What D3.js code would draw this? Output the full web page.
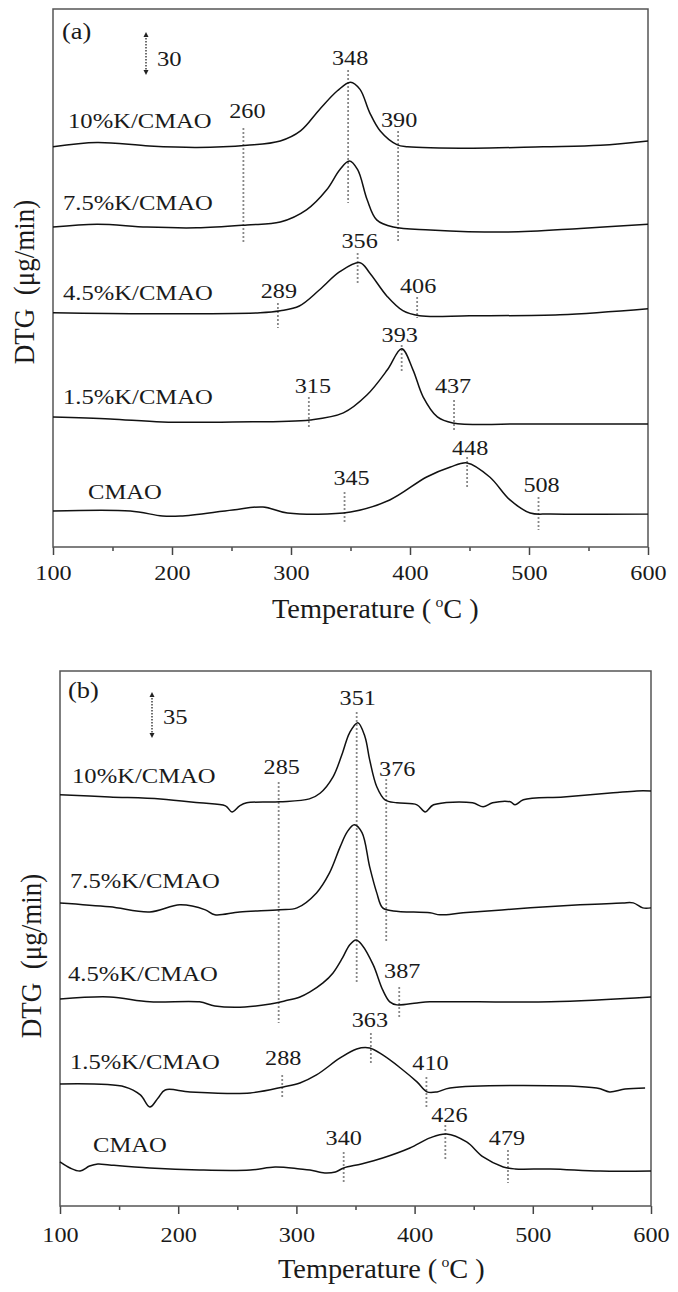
<!DOCTYPE html>
<html>
<head>
<meta charset="utf-8">
<script src="https://cdnjs.cloudflare.com/ajax/libs/d3/7.8.5/d3.min.js"></script>
<style>
  body { margin: 0; background: #fff; }
  svg text { font-family: "Liberation Serif", "Times New Roman", serif; fill: #1a1a1a; }
</style>
</head>
<body>
<script>
// ---- data ----
var seriesNames = ["10%K/CMAO", "7.5%K/CMAO", "4.5%K/CMAO", "1.5%K/CMAO", "CMAO"];
var xTicks = [100, 200, 300, 400, 500, 600];
var xMinorTicks = [150, 250, 350, 450, 550];

// panel (a): [temperature, DTG] (curves stacked with offsets already included)
var a10 = [[100,279],[137,282],[181,279.5],[221,278.5],[263,280],[291,283],[308,290],[324,305],[339,318],[350,324],[358,319],[366,303],[375,290],[389,280.5],[398,279],[453,278],[512,279],[560,280],[600,283]];
var a75 = [[100,223],[137,225],[179,223],[221,222.5],[263,224.5],[291,226.5],[313,235],[330,249],[341,263],[349,269],[356,263],[364,242],[372,228],[386,223],[417,221],[481,219.5],[543,222],[600,225]];
var a45 = [[100,163.3],[181,162.6],[274,163.3],[291,164.7],[307,168],[324,179.3],[341,191.9],[358,198.2],[366,191.2],[381,174.5],[394,164.7],[408,161.2],[450,161.2],[526,161.9],[600,166.1]];
var a15 = [[100,90.7],[148,89.3],[192,87.2],[251,87.2],[316,88.6],[344,93.5],[364,106.1],[381,123.5],[393,138.2],[402.5,123.5],[411,104.7],[423,90.7],[436,86.5],[500,85.8],[600,85.8]];
var a0 = [[100,25.1],[165,25.1],[192,21.6],[207,21.6],[251,25.8],[276.5,27.9],[297,23.7],[350,24.4],[383,32.8],[414,48.8],[434,55.8],[448,58.6],[467,48.8],[484,32.8],[501,23.7],[518,23],[600,23]];
var markA = [260, 348, 390, 289, 356, 406, 315, 393, 437, 345, 448, 508];
var scaleA = 30;

// panel (b)
var b10 = [[100,312.8],[142,311.2],[185,309.7],[218,306.7],[240,304.4],[245.5,299.8],[252,304.4],[258,306.7],[286,307.5],[311,309.7],[320,314],[331,326.5],[339,344.7],[345,360],[352,367.6],[358,357],[362,339.4],[368,319],[375,309],[385,306.7],[402,305.2],[409,299.8],[416,305.2],[449,306.7],[458,303.7],[466,306.7],[481,307.5],[485,305.2],[492,309],[526,311.2],[568,314.3],[588,315.8],[600,315.8]];
var b75 = [[100,230.6],[142,227.6],[176,223.7],[201.5,229.1],[223,225.3],[231,221.5],[252,223.7],[286,225.3],[300.5,226.8],[317,238.2],[328,253.4],[337,273.2],[343,284.6],[349,290],[355.5,284],[362,258],[368,238.2],[373,226.8],[382,224.5],[413,223],[421.5,221.5],[441,223],[498,226.8],[540,229.1],[576,230.6],[585,230.6],[593,226.8],[600,226.8]];
var b45 = [[100,157.5],[142,159],[176,155.3],[218,155.3],[231,152.2],[256.5,151.4],[278,153.7],[290,156],[303,159],[311.5,162.9],[322.5,169.7],[331,177.3],[339,188.7],[345,198.6],[350.5,202.4],[355.5,198.6],[365,183.4],[373,164.4],[379,155.3],[385,153],[402,154.5],[413,155.3],[515,155.3],[600,159]];
var b15 = [[100,92.8],[155,90.6],[168,84.5],[176,75.3],[183,82.2],[189,88.3],[210,86.8],[261,86],[289,90.6],[303,93.6],[317,99.7],[337,112.6],[351,119.5],[362,120.2],[373,114.9],[388,105],[402,94.4],[410.5,86.8],[419,86.8],[430,89.8],[554,89.8],[565,86.8],[578,89],[595,89.8]];
var b0 = [[100,33.5],[108.5,28.9],[117,26.6],[125,30.4],[132,32],[142,31.2],[176,28.9],[218,27.4],[261,27.4],[282,29.7],[303,28.2],[311.5,27.4],[324,25.1],[333,25.9],[340,28.9],[355,32],[373,36.5],[396,44.1],[413,51.8],[427,54.8],[444,48.7],[458,37.3],[475,29.7],[485,28.2],[515,28.2],[557,26.6],[600,26.6]];
var markB = [285, 351, 376, 387, 288, 363, 410, 340, 426, 479];
var scaleB = 35;

// ---- layout (pixels) ----
var panels = [
  { tag: "(a)", series: [a10, a75, a45, a15, a0], marks: markA, bar: scaleA,
    left: 53, right: 648, top: 9, bottom: 547, yMax: 375,
    tagPos: [62, 39], barPos: [146, 32], barText: [157, 66],
    namePos: [[68,128],[63,210],[63,300],[63,404],[88,499]],
    // label baseline, line top, line bottom, label dx
    markPos: [[118,128,242,4],[65,70,203,2],[127,131,242,1],[298,303,328,1],[248,253,283,2],[293,297,318,1],
              [393,397,428,4],[342,345,373,-2],[393,400,430,-1],[485,492,522,7],[455,457,487,3],[492,497,530,3]],
    tickY: 33, yLab: [34, 282], xLab: [272, 618] },
  { tag: "(b)", series: [b10, b75, b45, b15, b0], marks: markB, bar: scaleB,
    left: 60, right: 651, top: 671, bottom: 1206, yMax: 407,
    tagPos: [68, 698], barPos: [152, 692], barText: [163, 724],
    namePos: [[72,783],[70,888],[68,981],[70,1069],[93,1152]],
    markPos: [[774,782,1023,3],[705,712,982,1],[776,779,943,11],[978,987,1017,3],[1065,1075,1098,1],[1027,1033,1063,-1],
              [1070,1077,1108,4],[1145,1152,1183,0],[1122,1125,1160,4],[1145,1150,1183,-1]],
    tickY: 36, yLab: [41, 956], xLab: [278, 1278] }
];

var svg = d3.select("body").append("svg")
  .attr("width", 678)
  .attr("height", 1292);

function addText(g, x, y, str, size, anchor, sx) {
  return g.append("text")
    .attr("transform", "translate(" + x + "," + y + ") scale(" + sx + ",1)")
    .attr("text-anchor", anchor)
    .style("font-size", size + "px")
    .text(str);
}

panels.forEach(function(p) {
  var g = svg.append("g");

  var x = d3.scaleLinear().domain([100, 600]).range([p.left, p.right]);
  var y = d3.scaleLinear().domain([0, p.yMax]).range([p.bottom, p.top]);

  // axis ticks (outward)
  var major = d3.axisBottom(x).tickValues(xTicks).tickSize(8).tickFormat(d3.format("d"));
  var minor = d3.axisBottom(x).tickValues(xMinorTicks).tickSize(4).tickFormat("");
  var gx = g.append("g").attr("transform", "translate(0," + p.bottom + ")").call(major);
  var gm = g.append("g").attr("transform", "translate(0," + p.bottom + ")").call(minor);
  [gx, gm].forEach(function(a) {
    a.select(".domain").remove();
    a.selectAll("line").attr("stroke", "#444").attr("stroke-width", 1.5);
  });
  gx.selectAll("text")
    .attr("y", p.tickY).attr("dy", 0)
    .attr("transform", "scale(1.1,1)")
    .style("font-size", "22px");

  // frame
  g.append("rect")
    .attr("x", p.left).attr("y", p.top)
    .attr("width", p.right - p.left).attr("height", p.bottom - p.top)
    .attr("fill", "none").attr("stroke", "#555").attr("stroke-width", 1.5);

  // marker dotted lines
  p.marks.forEach(function(t, i) {
    var m = p.markPos[i];
    g.append("line")
      .attr("x1", x(t)).attr("x2", x(t))
      .attr("y1", m[1]).attr("y2", m[2])
      .attr("stroke", "#888").attr("stroke-width", 1.8)
      .attr("stroke-dasharray", "2,2");
    addText(g, x(t) + m[3], m[0], String(t), 22, "middle", 1.1);
  });

  // curves
  var line = d3.line()
    .x(function(d) { return x(d[0]); })
    .y(function(d) { return y(d[1]); })
    .curve(d3.curveCatmullRom.alpha(0.5));
  p.series.forEach(function(s) {
    g.append("path").datum(s)
      .attr("d", line)
      .attr("fill", "none")
      .attr("stroke", "#111")
      .attr("stroke-width", 1.5);
  });

  // series names
  seriesNames.forEach(function(n, i) {
    addText(g, p.namePos[i][0], p.namePos[i][1], n, 22, "start", 1.12);
  });

  // panel tag
  addText(g, p.tagPos[0], p.tagPos[1], p.tag, 24, "start", 1.1);

  // scale bar
  var bx = p.barPos[0], by1 = p.barPos[1], by2 = by1 + (y(0) - y(p.bar));
  g.append("line")
    .attr("x1", bx).attr("x2", bx).attr("y1", by1 + 3).attr("y2", by2 - 3)
    .attr("stroke", "#222").attr("stroke-width", 1.3).attr("stroke-dasharray", "1.5,1.5");
  g.append("path")
    .attr("d", "M" + (bx - 2.5) + "," + (by1 + 5) + "L" + bx + "," + by1 + "L" + (bx + 2.5) + "," + (by1 + 5) + "Z")
    .attr("fill", "#222");
  g.append("path")
    .attr("d", "M" + (bx - 2.5) + "," + (by2 - 5) + "L" + bx + "," + by2 + "L" + (bx + 2.5) + "," + (by2 - 5) + "Z")
    .attr("fill", "#222");
  addText(g, p.barText[0], p.barText[1], String(p.bar), 22, "start", 1.12);

  // y label
  g.append("text")
    .attr("transform", "translate(" + p.yLab[0] + "," + p.yLab[1] + ") scale(1.12,1) rotate(-90)")
    .attr("text-anchor", "middle")
    .style("font-size", "27px")
    .text("DTG\u00a0\u00a0(\u03bcg/min)");

  // x label
  var xl = g.append("text")
    .attr("transform", "translate(" + p.xLab[0] + "," + p.xLab[1] + ") scale(1.05,1)")
    .style("font-size", "27px");
  xl.append("tspan").text("Temperature (");
  xl.append("tspan").attr("dx", 4).attr("dy", -11).style("font-size", "15px").text("o");
  xl.append("tspan").attr("dy", 11).text("C )");
});
</script>
</body>
</html>
